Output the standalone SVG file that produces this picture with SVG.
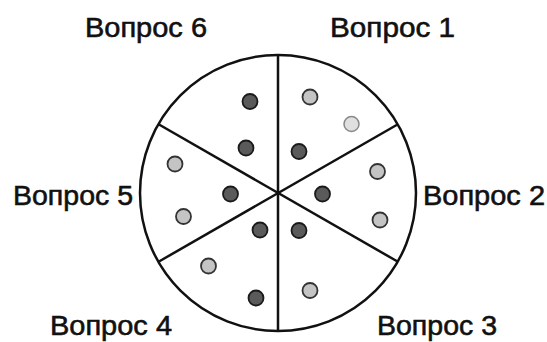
<svg xmlns="http://www.w3.org/2000/svg" width="547" height="342" viewBox="0 0 547 342">
<style>
.lbl{font-family:"Liberation Sans",Arial,sans-serif;font-size:28.5px;fill:#111;stroke:#111;stroke-width:0.6}
.ring{fill:#fff;stroke:#111;stroke-width:2.5}
.sec{stroke:#111;stroke-width:2.5;fill:none}
.dk{fill:#5a5a5a;stroke:#1a1a1a;stroke-width:1.8}
.lt{fill:#c4c4c4;stroke:#333;stroke-width:1.8}
.fa{fill:#e0e0e0;stroke:#888;stroke-width:1.5}
</style>
<rect width="547" height="342" fill="#fff"/>
<g id="wheel">
<circle class="ring" cx="278" cy="193" r="138"/>
</g>
<g id="connectors">
<line class="sec" x1="278" y1="55" x2="278" y2="331"/>
<line class="sec" x1="159" y1="124.5" x2="397.5" y2="261.5"/>
<line class="sec" x1="159" y1="261.5" x2="397.5" y2="124.5"/>
</g>
<g id="q1">
<text class="lbl" x="330" y="37" textLength="125" lengthAdjust="spacingAndGlyphs">Вопрос 1</text>
<circle class="lt" cx="310" cy="97" r="7.5"/>
<circle class="fa" cx="351.5" cy="124" r="7.5"/>
<circle class="dk" cx="299" cy="151.5" r="7.5"/>
</g>
<g id="q2">
<text class="lbl" x="423" y="205" textLength="122" lengthAdjust="spacingAndGlyphs">Вопрос 2</text>
<circle class="lt" cx="377.5" cy="171.5" r="7.5"/>
<circle class="dk" cx="322.5" cy="194" r="7.5"/>
<circle class="lt" cx="380" cy="220" r="7.5"/>
</g>
<g id="q3">
<text class="lbl" x="377" y="335" textLength="120" lengthAdjust="spacingAndGlyphs">Вопрос 3</text>
<circle class="dk" cx="299" cy="230.5" r="7.5"/>
<circle class="lt" cx="310" cy="290.5" r="7.5"/>
</g>
<g id="q4">
<text class="lbl" x="50" y="335" textLength="122" lengthAdjust="spacingAndGlyphs">Вопрос 4</text>
<circle class="dk" cx="260" cy="230" r="7.5"/>
<circle class="lt" cx="208.5" cy="266" r="7.5"/>
<circle class="dk" cx="256" cy="298" r="7.5"/>
</g>
<g id="q5">
<text class="lbl" x="13" y="205" textLength="120" lengthAdjust="spacingAndGlyphs">Вопрос 5</text>
<circle class="lt" cx="175" cy="164" r="7.5"/>
<circle class="dk" cx="230.5" cy="194" r="7.5"/>
<circle class="lt" cx="183.5" cy="216.5" r="7.5"/>
</g>
<g id="q6">
<text class="lbl" x="85" y="37" textLength="122" lengthAdjust="spacingAndGlyphs">Вопрос 6</text>
<circle class="dk" cx="250" cy="101.5" r="7.5"/>
<circle class="dk" cx="246" cy="148" r="7.5"/>
</g>
</svg>
